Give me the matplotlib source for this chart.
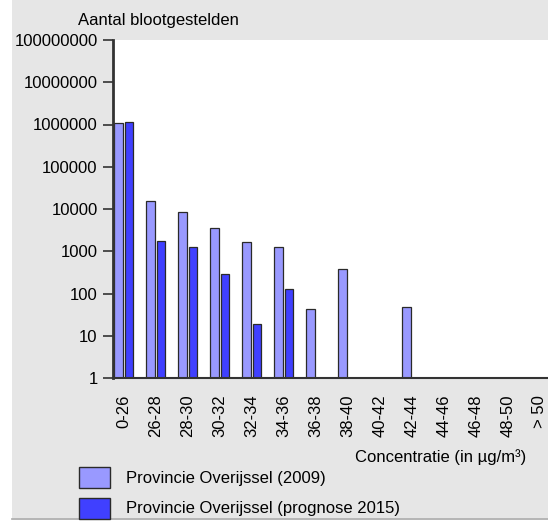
import numpy as np
import matplotlib.pyplot as plt
from matplotlib.patches import Rectangle
from matplotlib.lines import Line2D

plt.rcParams['font.family'] = ['Liberation Sans', 'DejaVu Sans']
plt.rcParams['font.size'] = 12

categories = ['0-26', '26-28', '28-30', '30-32', '32-34', '34-36', '36-38',
              '38-40', '40-42', '42-44', '44-46', '46-48', '48-50', '> 50']
v2009 = [1100000, 15700, 8600, 3500, 1630, 1280, 44, 380, 1, 49, 1, 1, 1, 1]
v2015 = [1150000, 1780, 1260, 294, 19, 128, 1, 1, 1, 1, 1, 1, 1, 1]
label2009 = 'Provincie Overijssel (2009)'
label2015 = 'Provincie Overijssel (prognose 2015)'
yticks = [1, 10, 100, 1000, 10000, 100000, 1000000, 10000000, 100000000]

c_light = '#9999ff'
c_dark = '#4040ff'
c_edge = '#2a2a2a'
c_bg = '#e6e6e6'

W, H = 548, 522
fig = plt.figure(figsize=(W / 100, H / 100), dpi=100, facecolor='white')

# grey panel behind everything
fig.patches.append(Rectangle((12 / W, 1 - 518 / H), 536 / W, 518 / H,
                             transform=fig.transFigure, facecolor=c_bg,
                             edgecolor='none', zorder=-10))
fig.lines.append(Line2D([12 / W, 1], [1 - 519 / H, 1 - 519 / H],
                        transform=fig.transFigure, color='#a8a8a8', lw=1.2,
                        zorder=-5))

ax = fig.add_axes([113 / W, 1 - 378 / H, 435 / W, 338 / H])
ax.set_facecolor('white')

x = np.arange(len(categories))
w = 0.27
ax.bar(x - 0.17, np.array(v2009) - 1, bottom=1, width=w, color=c_light,
       edgecolor=c_edge, linewidth=0.9)
ax.bar(x + 0.17, np.array(v2015) - 1, bottom=1, width=w, color=c_dark,
       edgecolor=c_edge, linewidth=0.9)

ax.set_yscale('log')
ax.set_ylim(1, 100000000)
ax.set_xlim(-0.335, 13.26)
ax.set_yticks(yticks)
ax.set_yticklabels([str(v) for v in yticks])
ax.minorticks_off()
ax.tick_params(axis='y', length=7, width=1.2, color='#333333', pad=4)
ax.set_xticks(x)
ax.set_xticklabels(categories, rotation=90, va='top', ha='center')
ax.tick_params(axis='x', length=0, pad=12)

for s in ['top', 'right']:
    ax.spines[s].set_visible(False)
ax.spines['left'].set_color('#333333')
ax.spines['left'].set_linewidth(2)
ax.spines['bottom'].set_color('#333333')
ax.spines['bottom'].set_linewidth(1.5)

fig.text(78 / W, 1 - 20 / H, 'Aantal blootgestelden', ha='left', va='center')
fig.text(526 / W, 1 - 457 / H, 'Concentratie (in µg/m³)', ha='right', va='center')

# legend
for i, (col, lab) in enumerate([(c_light, label2009), (c_dark, label2015)]):
    y0 = 467 + i * 31
    fig.patches.append(Rectangle((79 / W, 1 - (y0 + 21) / H), 31 / W, 21 / H,
                                 transform=fig.transFigure, facecolor=col,
                                 edgecolor=c_edge, lw=1, zorder=3))
    fig.text(126 / W, 1 - (y0 + 11) / H, lab, ha='left', va='center')

fig.savefig('out.png', dpi=100, facecolor=fig.get_facecolor())
